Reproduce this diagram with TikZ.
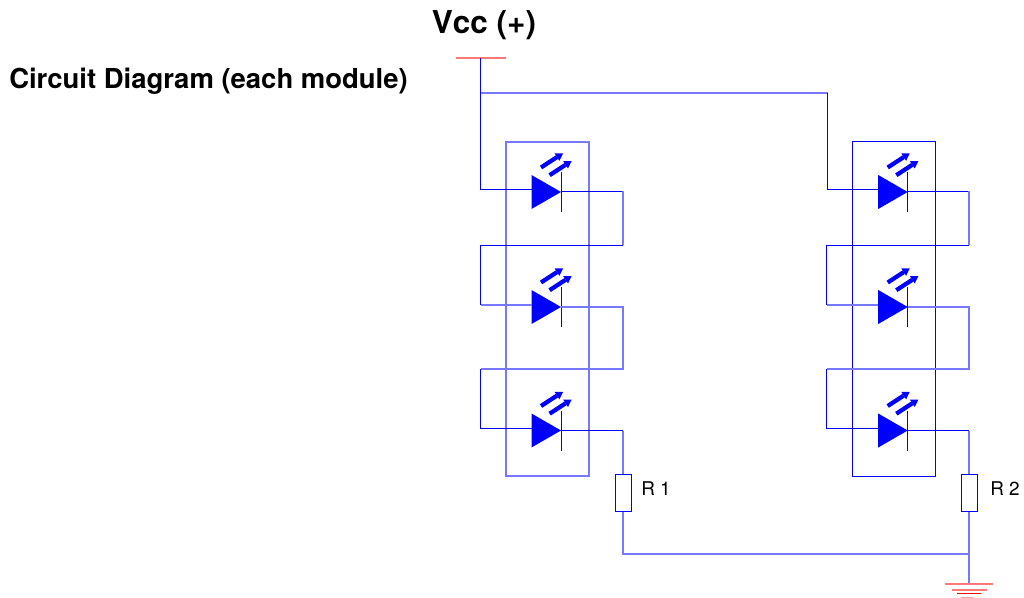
\documentclass[tikz,border=0pt]{standalone}
\usepackage{fontspec}
\setmainfont{TeX Gyre Heros}
\definecolor{softred}{RGB}{255,120,120}
\definecolor{softblue}{RGB}{120,120,255}
\tikzset{
  wire/.style={draw=blue,line width=0.75pt,line join=miter},
  softwire/.style={draw=softblue,line width=1.15pt,line join=miter},
  rail/.style={draw=softred,line width=1.15pt},
  ledbody/.style={fill=blue,draw=none},
  ledbar/.style={draw=blue,line width=0.75pt},
  resbox/.style={draw=blue,line width=0.75pt,fill=white,minimum width=12pt,minimum height=28pt,inner sep=0pt,outer sep=0pt},
  modbox/.style={inner sep=0pt,outer sep=0pt,minimum height=250.5pt},
  headtext/.style={font=\bfseries,text=black,inner sep=0pt},
  reslabel/.style={font=\fontsize{14.2pt}{16pt}\selectfont,text=black,inner sep=0pt,anchor=west}
}
\begin{document}
\begin{tikzpicture}[x=0.75pt,y=-0.75pt]
\useasboundingbox (0,0) rectangle (1024,598);
\node[headtext,font=\bfseries\fontsize{23.6pt}{28pt}\selectfont] (vcc) at (484,25) {Vcc (+)};
\node[headtext,font=\bfseries\fontsize{20.6pt}{24pt}\selectfont,anchor=west] (title) at (9,81) {Circuit Diagram (each module)};
% supply rail
\coordinate (railL) at (456,58);
\coordinate (railR) at (506,58);
\coordinate (feed) at (480.5,58);
\coordinate (tee) at (480.5,93);
\coordinate (Lleft) at (480.5,189.5);
\coordinate (rbranch) at (827.5,93);
\draw[rail] (railL) -- (railR);
\draw[wire] (feed) -- (tee);
% modules
\foreach \m/\sx/\lsh/\bx/\bw/\lx/\lbl/\bstyle in {A/0/0/547.5/62.25/641/R 1/softwire,B/346/0.7/547.75/62.6/644/R 2/wire}{
  \begin{scope}[shift={(\sx,0)}]
    \node[modbox,\bstyle,minimum width=\bw pt] (box\m) at (\bx,309) {};
    \foreach \r/\dy in {1/0,2/115,3/238.5}{
      \begin{scope}[shift={(\lsh,\dy)}]
        \fill[ledbody] (531.5,175) -- (561,192) -- (531.5,209) -- cycle;
        \coordinate (in\m\r) at (531.5,189.5);
        \coordinate (out\m\r) at (561,191.5);
        \coordinate (top\m\r) at (561,172);
        \coordinate (bot\m\r) at (561,212);
        \draw[ledbar] (top\m\r) -- (bot\m\r);
        \foreach \ax/\ay in {0/0,8.6/7.7}{
          \begin{scope}[shift={(\ax,\ay)}]
            \draw[blue,line width=3.2pt] (541,167.5) -- (557,157.1);
            \fill[blue] (563,153.5) -- (559.4,160.8) -- (554.6,153.4) -- cycle;
          \end{scope}
        }
      \end{scope}
    }
    \coordinate (rightA\m) at (623,191.5);
    \coordinate (loop1R\m) at (623,245.5);
    \coordinate (loop1L\m) at (480.5,245.5);
    \coordinate (in2L\m) at (480.5,305);
    \coordinate (rightB\m) at (623,307);
    \coordinate (loop2R\m) at (623,369);
    \coordinate (loop2L\m) at (480.5,369);
    \coordinate (in3L\m) at (480.5,428.5);
    \coordinate (rightC\m) at (623,430.5);
    \draw[wire] (out\m1) -- (rightA\m);
    \draw[softwire] (rightA\m) -- (loop1R\m);
    \draw[wire] (loop1R\m) -- (loop1L\m) -- (in2L\m);
    \draw[softwire] (in2L\m) -- (in2L\m -| in\m2);
    \draw[softwire] (out\m2 |- rightB\m) -- (rightB\m) -- (loop2R\m) -- (loop2L\m);
    \draw[wire] (loop2L\m) -- (in3L\m) -- (in3L\m -| in\m3);
    \draw[wire] (out\m3 |- rightC\m) -- (rightC\m);
    \node[resbox] (res\m) at (623,493) {};
    \draw[softwire] (rightC\m) -- (res\m.north);
    \node[reslabel] (lab\m) at (\lx,489) {\lbl};
  \end{scope}
}
\draw[wire] (tee) -- (Lleft) -- (inA1);
\draw[softwire] (tee) -- (rbranch);
\draw[wire] (rbranch) -- (rbranch |- inB1) -- (inB1);
% return and ground
\coordinate (gnd) at (969,584);
\coordinate (ret) at (623,554);
\coordinate (retT) at (969,554);
\draw[softwire] (resA.south) -- (ret) -- (retT);
\draw[softwire] (resB.south) -- (gnd);
\draw[rail] (945,584) -- (993,584);
\draw[rail] (952,590) -- (987,590);
\draw[rail,draw=red,line width=0.75pt] (957,593.5) -- (981,593.5);
\draw[rail,draw=red!40,line width=0.75pt] (961,597.5) -- (973,597.5);
\end{tikzpicture}
\end{document}
